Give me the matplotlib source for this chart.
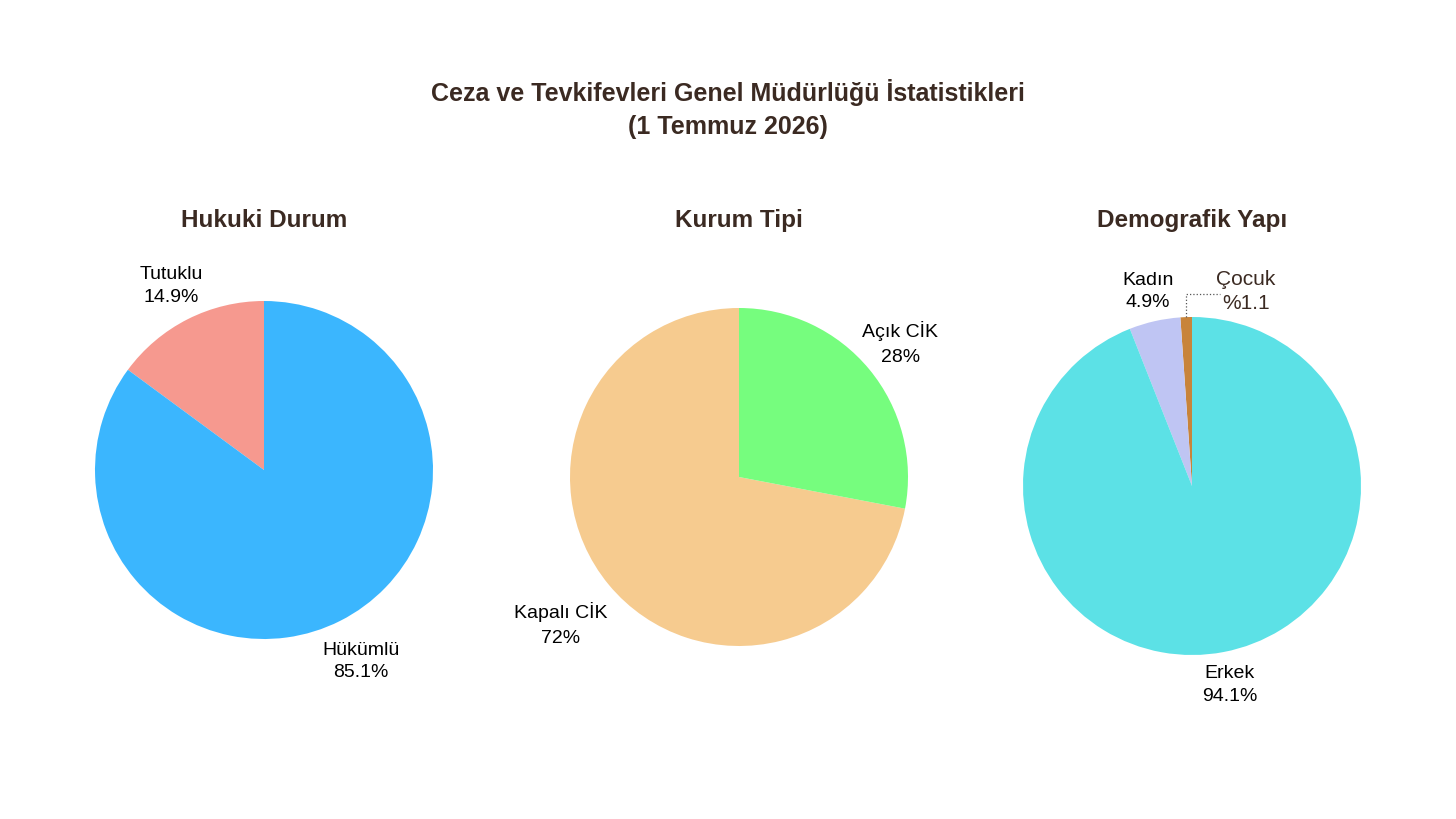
import numpy as np
import matplotlib
matplotlib.use('Agg')
from matplotlib import pyplot as plt

plt.rcParams['font.family'] = ['Liberation Sans', 'DejaVu Sans']

title = 'Ceza ve Tevkifevleri Genel Müdürlüğü İstatistikleri\n(1 Temmuz 2026)'

legal_labels = ['Tutuklu', 'Hükümlü']
legal_values = [14.9, 85.1]
legal_pct = ['14.9%', '85.1%']

inst_labels = ['Kapalı CİK', 'Açık CİK']
inst_values = [72, 28]
inst_pct = ['72%', '28%']

demo_labels = ['Çocuk', 'Kadın', 'Erkek']
demo_values = [1.1, 4.9, 94.1]
demo_pct = ['%1.1', '4.9%', '94.1%']

W, H = 1456, 819
fig = plt.figure(figsize=(W / 100, H / 100), dpi=100)
fig.patch.set_facecolor('white')

title_color = '#3b2a22'
fig.text(728 / W, 1 - 109 / H, title, ha='center', va='center', fontsize=18,
         fontweight='bold', color=title_color, linespacing=1.45)

# pie centers in pixels, radius 169 px
panels = [
    dict(cx=264, cy=470, name='Hukuki Durum', labels=legal_labels, values=legal_values,
         pct=legal_pct, colors=['#f6998f', '#3bb6fe'], dist=[1.22, 1.27], ls=1.4),
    dict(cx=739, cy=477, name='Kurum Tipi', labels=inst_labels, values=inst_values,
         pct=inst_pct, colors=['#f6cb8f', '#76fd7e'], dist=[1.37, 1.24], ls=1.6),
    dict(cx=1192, cy=486, name='Demografik Yapı', labels=demo_labels, values=demo_values,
         pct=demo_pct, colors=['#c8843a', '#bfc5f3', '#5ce1e6'], dist=[None, 1.18, 1.2], ls=1.45),
]

R = 169
half = 250
for p in panels:
    ax = fig.add_axes([(p['cx'] - half) / W, 1 - (p['cy'] + half) / H, 2 * half / W, 2 * half / H])
    lim = half / R
    wedges, _ = ax.pie(p['values'], colors=p['colors'], startangle=90, counterclock=True,
                       radius=1, wedgeprops=dict(linewidth=0))
    ax.set_xlim(-lim, lim)
    ax.set_ylim(-lim, lim)
    ax.set_aspect('equal')
    ax.axis('off')
    fig.text(p['cx'] / W, 1 - 221 / H, p['name'], ha='center', va='center', fontsize=17.5,
             fontweight='bold', color=title_color)
    for w, lab, pc, d in zip(wedges, p['labels'], p['pct'], p['dist']):
        if d is None:
            continue
        ang = np.deg2rad((w.theta1 + w.theta2) / 2)
        ax.text(d * np.cos(ang), d * np.sin(ang), f'{lab}\n{pc}', ha='center', va='center',
                fontsize=14, color='black', linespacing=p['ls'])
    if p['name'] == 'Demografik Yapı':
        w = wedges[0]
        ang = np.deg2rad((w.theta1 + w.theta2) / 2)
        x0, y0 = np.cos(ang), np.sin(ang)
        ax.plot([x0, x0, 0.166], [y0, 1.136, 1.136], ls=':', color='#555555', lw=0.9)
        ax.text(0.32, 1.15, f'{demo_labels[0]}\n{demo_pct[0]}', ha='center', va='center',
                fontsize=15, color=title_color, linespacing=1.35)

fig.savefig('out.png', dpi=100, facecolor='white')
